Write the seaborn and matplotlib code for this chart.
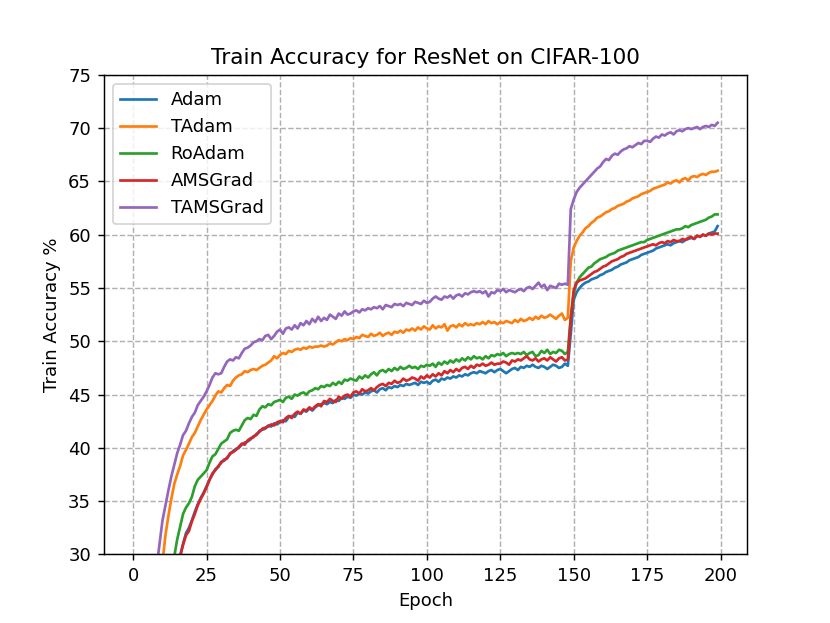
import numpy as np
import pandas as pd
import matplotlib
matplotlib.use("Agg")
import matplotlib.pyplot as plt
import seaborn as sns

epochs = list(range(200))

adam = [
    2.1, 4.4, 6.6, 8.7, 10.8, 12.8, 14.7, 16.5, 18.3, 19.9,
    21.5, 23.0, 24.4, 25.8, 27.1, 28.4, 29.9, 31.0, 32.0, 32.5,
    33.2, 34.0, 34.7, 35.3, 35.8, 36.4, 37.0, 37.5, 38.0, 38.2,
    38.7, 38.8, 39.1, 39.4, 39.7, 39.9, 40.0, 40.3, 40.5, 40.6,
    40.8, 41.1, 41.2, 41.6, 41.7, 41.8, 42.1, 42.0, 42.3, 42.2,
    42.4, 42.6, 42.5, 42.9, 43.0, 42.9, 43.3, 43.2, 43.5, 43.4,
    43.7, 43.5, 43.8, 44.0, 44.1, 44.2, 44.1, 44.3, 44.2, 44.5,
    44.4, 44.7, 44.6, 44.8, 44.7, 45.0, 44.9, 45.1, 45.0, 45.2,
    45.1, 45.3, 45.4, 45.2, 45.5, 45.6, 45.4, 45.7, 45.6, 45.8,
    45.7, 45.9, 45.8, 46.0, 45.9, 46.0, 46.1, 45.9, 46.2, 46.1,
    46.2, 46.0, 46.3, 46.4, 46.2, 46.5, 46.4, 46.6, 46.5, 46.7,
    46.6, 46.8, 46.7, 46.9, 46.8, 47.0, 47.1, 47.0, 47.2, 47.1,
    47.0, 47.2, 47.3, 47.1, 47.3, 47.4, 47.2, 47.0, 47.2, 47.4,
    47.5, 47.3, 47.6, 47.5, 47.7, 47.6, 47.8, 47.6, 47.5, 47.7,
    47.6, 47.4, 47.6, 47.8, 47.7, 47.5, 47.6, 47.9, 47.7, 50.7,
    53.9, 54.6, 55.0, 55.3, 55.5, 55.6, 55.8, 55.9, 56.0, 56.2,
    56.3, 56.5, 56.6, 56.7, 56.9, 57.0, 57.2, 57.3, 57.4, 57.6,
    57.7, 57.8, 57.9, 58.1, 58.2, 58.3, 58.4, 58.5, 58.7, 58.8,
    58.9, 59.0, 59.1, 59.0, 59.2, 59.3, 59.4, 59.3, 59.5, 59.6,
    59.7, 59.6, 59.9, 59.8, 60.0, 59.9, 60.1, 60.2, 60.3, 60.8,
]

tadam = [
    4.5, 7.5, 10.4, 13.2, 15.9, 18.4, 20.8, 23.0, 25.2, 27.3,
    29.3, 31.8, 33.6, 35.2, 36.6, 37.5, 38.3, 39.3, 39.8, 40.4,
    41.0, 41.4, 42.0, 42.6, 43.1, 43.6, 44.0, 44.4, 44.9, 45.3,
    45.2, 45.6, 45.9, 45.8, 46.3, 46.6, 46.8, 46.9, 47.2, 47.1,
    47.3, 47.4, 47.3, 47.5, 47.7, 47.8, 48.0, 48.2, 48.6, 48.4,
    48.7, 48.9, 48.8, 49.1, 49.0, 49.2, 49.3, 49.2, 49.4, 49.3,
    49.5, 49.4, 49.5, 49.5, 49.6, 49.5, 49.6, 49.8, 49.7, 49.9,
    50.1, 50.0, 50.2, 50.1, 50.3, 50.2, 50.4, 50.3, 50.6, 50.5,
    50.4, 50.7, 50.5, 50.6, 50.8, 50.5, 50.7, 50.8, 50.6, 50.9,
    50.8, 51.0, 50.8, 51.1, 51.0, 51.2, 51.0, 51.3, 51.1, 51.4,
    51.2, 51.1, 51.5, 51.2, 51.4, 51.3, 51.6, 51.0, 51.4, 51.5,
    51.3, 51.6, 51.4, 51.7, 51.5, 51.6, 51.5, 51.7, 51.6, 51.8,
    51.6, 51.9, 51.7, 51.8, 51.6, 51.8, 51.7, 51.9, 51.8, 51.7,
    52.0, 51.8, 52.1, 51.9, 52.0, 52.2, 52.0, 52.3, 52.1, 52.4,
    52.2, 52.3, 52.5, 52.3, 52.1, 52.4, 52.6, 52.0, 52.2, 57.5,
    58.8, 59.4, 59.9, 60.2, 60.6, 60.8, 61.1, 61.3, 61.6, 61.7,
    61.9, 62.1, 62.2, 62.4, 62.5, 62.7, 62.8, 62.9, 63.1, 63.2,
    63.4, 63.5, 63.6, 63.8, 63.9, 64.0, 64.1, 64.3, 64.4, 64.5,
    64.6, 64.7, 64.9, 64.8, 65.0, 65.1, 64.9, 65.2, 65.3, 65.1,
    65.4, 65.5, 65.4, 65.6, 65.7, 65.6, 65.8, 65.9, 65.9, 66.0,
]

roadam = [
    3.0, 5.5, 8.0, 10.4, 12.7, 14.9, 17.0, 19.0, 20.9, 22.6,
    24.2, 25.8, 27.2, 28.6, 29.8, 31.4, 32.6, 33.8, 34.4, 34.8,
    35.4, 36.4, 37.0, 37.3, 37.6, 37.9, 38.6, 39.2, 39.4, 39.9,
    40.4, 40.6, 40.8, 41.4, 41.6, 41.7, 41.6, 42.1, 42.6, 42.8,
    42.7, 43.1, 43.0, 43.6, 43.9, 43.8, 44.1, 44.0, 44.3, 44.4,
    44.5, 44.3, 44.7, 44.8, 44.6, 45.0, 44.9, 45.1, 45.2, 45.0,
    45.3, 45.4, 45.6, 45.5, 45.8, 45.7, 45.9, 45.8, 46.1, 45.9,
    46.2, 46.0, 46.4, 46.3, 46.5, 46.4, 46.3, 46.7, 46.5, 46.8,
    46.6, 46.9, 47.1, 46.8, 47.2, 47.3, 47.1, 47.4, 47.2, 47.5,
    47.3, 47.6, 47.4, 47.5, 47.7, 47.5, 47.6, 47.4, 47.7, 47.6,
    47.8, 47.7, 47.9, 47.6, 48.0, 47.8, 48.1, 47.9, 48.2, 48.0,
    48.3, 48.1, 48.4, 48.2, 48.5, 48.3, 48.6, 48.4, 48.5, 48.3,
    48.6, 48.4, 48.7, 48.6, 48.8, 48.7, 48.9, 48.6, 48.8, 48.9,
    48.8, 48.9, 48.8, 49.0, 48.7, 48.9, 49.0, 48.6, 48.7, 49.1,
    48.9, 49.2, 48.8, 49.0, 48.9, 49.2, 49.1, 48.8, 49.0, 52.3,
    54.5, 55.5, 56.0, 56.3, 56.6, 56.9, 57.0, 57.3, 57.5, 57.7,
    57.8, 57.9, 58.1, 58.2, 58.3, 58.5, 58.6, 58.7, 58.8, 58.9,
    59.0, 59.1, 59.2, 59.3, 59.3, 59.5, 59.6, 59.7, 59.8, 59.9,
    60.0, 60.1, 60.2, 60.3, 60.4, 60.5, 60.5, 60.6, 60.8, 60.7,
    60.9, 61.0, 61.1, 61.2, 61.3, 61.4, 61.6, 61.7, 61.9, 61.9,
]

amsgrad = [
    2.0, 4.2, 6.4, 8.5, 10.6, 12.6, 14.5, 16.4, 18.1, 19.8,
    21.4, 22.9, 24.3, 25.7, 27.0, 28.3, 29.8, 30.9, 31.8, 32.2,
    33.1, 33.8, 34.6, 35.2, 35.7, 36.3, 37.0, 37.6, 37.9, 38.3,
    38.6, 38.9, 39.0, 39.5, 39.6, 39.8, 40.1, 40.4, 40.3, 40.7,
    40.9, 41.0, 41.3, 41.5, 41.8, 41.9, 42.0, 42.2, 42.1, 42.4,
    42.5, 42.4, 42.8, 43.0, 42.8, 43.2, 43.4, 43.2, 43.6, 43.5,
    43.8, 43.6, 43.9, 44.1, 43.9, 44.4, 44.3, 44.6, 44.4, 44.3,
    44.8, 44.6, 44.9, 45.0, 44.8, 45.2, 45.3, 45.1, 45.5, 45.3,
    45.4, 45.6, 45.4, 45.7, 45.9, 46.0, 45.8, 46.1, 46.0, 46.3,
    46.1, 46.2, 46.5, 46.3, 46.4, 46.6, 46.5, 46.3, 46.7, 46.5,
    46.8, 46.6, 46.9, 46.7, 47.0, 46.8, 47.2, 47.0, 47.3, 47.1,
    47.4, 47.2, 47.5, 47.6, 47.4, 47.7, 47.5, 47.8, 47.7, 47.9,
    47.7, 47.8, 48.0, 47.8, 47.9, 47.9, 48.1, 48.0, 47.8, 48.2,
    48.1, 48.3, 48.2, 48.4, 48.6, 48.3, 48.2, 48.4, 48.1, 48.3,
    48.4, 48.2, 48.5, 48.3, 48.1, 48.4, 48.5, 48.2, 48.3, 52.0,
    54.8, 55.5, 55.7, 55.8, 55.9, 56.1, 56.3, 56.5, 56.6, 56.8,
    57.0, 57.1, 57.3, 57.5, 57.6, 57.7, 57.9, 58.0, 58.2, 58.3,
    58.4, 58.5, 58.6, 58.7, 58.8, 58.9, 59.0, 59.1, 59.0, 59.2,
    59.3, 59.2, 59.4, 59.3, 59.5, 59.4, 59.4, 59.6, 59.5, 59.7,
    59.8, 59.6, 59.9, 59.8, 60.0, 59.9, 60.1, 60.0, 60.1, 60.1,
]

tamsgrad = [
    5.5, 9.0, 12.3, 15.4, 18.3, 21.0, 23.6, 26.0, 28.8, 31.0,
    33.2, 34.6, 36.0, 37.3, 38.4, 39.5, 40.3, 41.2, 41.6, 42.3,
    42.9, 43.3, 44.0, 44.4, 44.8, 45.3, 45.9, 46.6, 47.0, 46.9,
    47.0, 47.6, 48.1, 48.3, 48.2, 48.5, 48.4, 48.9, 49.3, 49.4,
    49.6, 49.9, 50.0, 50.2, 50.1, 50.5, 50.6, 50.2, 50.5, 50.9,
    51.1, 50.7, 51.2, 51.3, 51.1, 51.5, 51.2, 51.7, 51.5, 51.9,
    51.6, 52.1, 51.8, 52.3, 51.9, 52.2, 52.0, 52.5, 52.3, 52.1,
    52.6, 52.4, 52.8, 52.5, 52.6, 52.8, 52.9, 52.7, 53.0, 52.9,
    53.1, 53.0, 53.2, 53.1, 53.3, 53.0, 53.4, 53.3, 53.2, 53.5,
    53.4, 53.5, 53.3, 53.6, 53.5, 53.4, 53.7, 53.6, 53.5, 53.8,
    53.6, 53.7, 54.0, 54.2, 54.0, 53.9, 54.2, 54.1, 54.3, 54.0,
    54.3, 54.4, 54.2, 54.5, 54.4, 54.6, 54.7, 54.6, 54.7, 54.5,
    54.7, 54.2, 54.6, 54.5, 54.8, 54.7, 54.9, 54.6, 54.8, 54.7,
    54.6, 54.8, 54.9, 54.7, 55.0, 55.1, 54.9, 55.2, 55.5, 55.1,
    55.3, 54.8, 55.2, 55.1, 55.0, 55.4, 55.3, 55.4, 55.3, 62.4,
    63.3, 64.0, 64.4, 64.7, 65.0, 65.3, 65.6, 65.9, 66.2, 66.4,
    66.8, 67.1, 67.0, 67.4, 67.6, 67.5, 67.8, 68.0, 68.1, 68.3,
    68.2, 68.4, 68.6, 68.5, 68.8, 68.8, 68.7, 69.0, 69.2, 69.1,
    69.4, 69.3, 69.5, 69.6, 69.4, 69.7, 69.8, 69.7, 69.9, 70.0,
    69.9, 70.0, 70.1, 69.9, 70.1, 70.2, 70.1, 70.3, 70.2, 70.5,
]

series_names = ["Adam", "TAdam", "RoAdam", "AMSGrad", "TAMSGrad"]
series_values = [adam, tadam, roadam, amsgrad, tamsgrad]
x_ticks = [0, 25, 50, 75, 100, 125, 150, 175, 200]
y_ticks = [30, 35, 40, 45, 50, 55, 60, 65, 70, 75]

for v in series_values:
    assert len(v) == len(epochs), len(v)

frames = []
for name, vals in zip(series_names, series_values):
    frames.append(pd.DataFrame({"Epoch": epochs, "Accuracy": vals, "Optimizer": name}))
df = pd.concat(frames, ignore_index=True)

plt.rcParams['font.family'] = ['DejaVu Sans']
fig, ax = plt.subplots(figsize=(830 / 130, 623 / 130), dpi=130)

palette = dict(zip(series_names, sns.color_palette("tab10", 5)))
for name in series_names:
    sub = df[df["Optimizer"] == name]
    sns.lineplot(data=sub, x="Epoch", y="Accuracy", color=palette[name],
                 label=name, linewidth=1.5, ax=ax)

ax.set_ylim(30, 75)
ax.set_xlim(-10, 209)
ax.set_xticks(x_ticks)
ax.set_yticks(y_ticks)
ax.grid(True, linestyle="--", color="#b0b0b0", linewidth=0.8)
ax.set_axisbelow(True)
ax.set_title("Train Accuracy for ResNet on CIFAR-100")
ax.set_xlabel("Epoch")
ax.set_ylabel("Train Accuracy %")
ax.legend(loc="upper left")

fig.savefig("out.png", dpi=130)
